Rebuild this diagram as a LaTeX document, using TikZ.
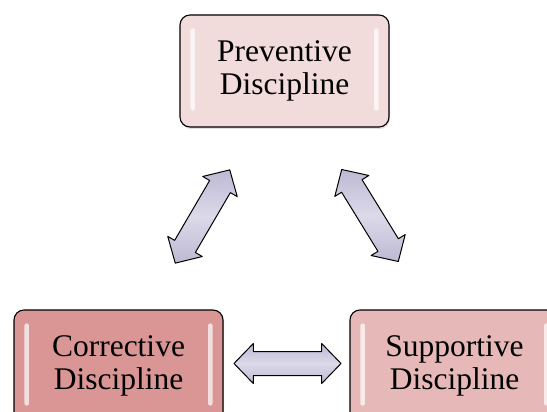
\documentclass[tikz,border=0pt]{standalone}
\usepackage{fontspec}
\setmainfont{Liberation Serif}
\usetikzlibrary{shapes.arrows,shadows,calc}
\definecolor{boxA}{RGB}{242,220,219}
\definecolor{boxB}{RGB}{217,150,148}
\definecolor{boxC}{RGB}{230,185,184}
\definecolor{arrowlight}{RGB}{220,217,233}
\definecolor{arrowdark}{RGB}{190,185,212}
\begin{document}
\begin{tikzpicture}[x=1pt,y=-1pt,
  discbox/.style={draw=black, line width=1.1pt, rounded corners=10pt,
    minimum width=209pt, minimum height=112pt, inner sep=0pt,
    align=center, font=\fontsize{31.5}{33}\selectfont,
    drop shadow={shadow xshift=1pt, shadow yshift=-2pt, opacity=0.25}},
  dblarrow/.style={double arrow, draw=black, line width=1pt, line join=round,
    top color=arrowdark, bottom color=arrowdark, middle color=arrowlight,
    minimum height=108pt, inner xsep=0pt, inner ysep=11.5pt,
    double arrow head extend=8pt, double arrow tip angle=92,
    text width=0pt, text height=0pt, text depth=0pt},
  gloss/.style={fill=white, opacity=0.7, rounded corners=2pt}]
\useasboundingbox (0,0) rectangle (547,412);
\clip (0,0) rectangle (547,412);
\node[discbox, fill=boxA] (prev) at (284.5,71) {Preventive\\Discipline};
\node[discbox, fill=boxB] (corr) at (118.5,366) {Corrective\\Discipline};
\node[discbox, fill=boxC] (supp) at (454.5,366) {Supportive\\Discipline};
\foreach \n in {prev,corr,supp}{
  \fill[gloss] ($(\n.north west)+(11,14)$) rectangle ($(\n.south west)+(15.5,-17)$);
  \fill[gloss] ($(\n.north east)+(-15.5,14)$) rectangle ($(\n.south east)+(-11,-17)$);
}
\node[dblarrow, rotate=59.7] (a1) at ($(prev)!0.5!(corr)+(1,-2)$) {};
\node[dblarrow, rotate=-58.4] (a2) at ($(prev)!0.5!(supp)+(0.5,-3)$) {};
\node[dblarrow, minimum height=107pt] (a3) at ($(corr)!0.5!(supp)+(1,-2.5)$) {};
\end{tikzpicture}
\end{document}
